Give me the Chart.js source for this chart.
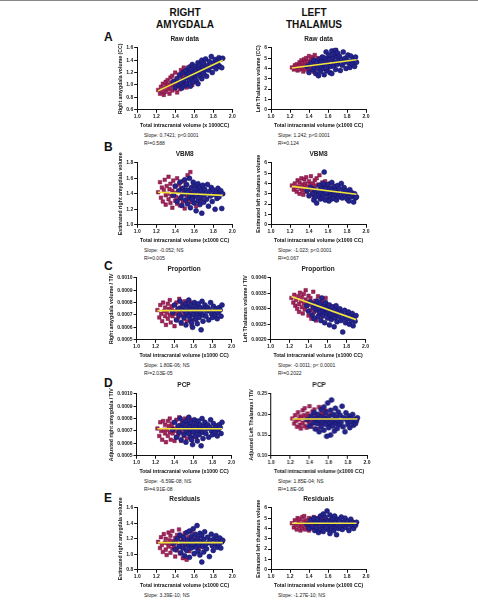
<!DOCTYPE html>
<html>
<head>
<meta charset="utf-8">
<script src="https://cdn.jsdelivr.net/npm/chart.js@4.4.1/dist/chart.umd.min.js"></script>
<style>
  body { margin: 0; width: 478px; height: 601px; background: #fff; position: relative; overflow: hidden;
         font-family: "Liberation Sans", Arial, sans-serif; border-top: 1px solid #888; box-sizing: border-box; }
  .box { position: absolute; }
  .t { position: absolute; white-space: nowrap; color: #111; }
  .head { font-size: 10px; font-weight: bold; line-height: 12px; text-align: center; width: 120px; }
  .letter { font-size: 12px; font-weight: bold; line-height: 14px; }
  .stat { font-size: 5px; line-height: 7.5px; color: #222; }
</style>
</head>
<body>
<div class="t head" style="left:125px;top:6px">RIGHT<br>AMYGDALA</div>
<div class="t head" style="left:254px;top:6px">LEFT<br>THALAMUS</div>
<div class="t letter" style="left:104px;top:29px">A</div>
<div class="t letter" style="left:104px;top:139px">B</div>
<div class="t letter" style="left:104px;top:258px">C</div>
<div class="t letter" style="left:104px;top:375px">D</div>
<div class="t letter" style="left:104px;top:490px">E</div>

<script>
// TIV (x1000 CC), same subjects in every panel
const tivFemale = [1.22,1.24,1.25,1.26,1.27,1.28,1.29,1.30,1.30,1.31,
  1.32,1.33,1.33,1.34,1.35,1.35,1.36,1.37,1.37,1.38,
  1.39,1.40,1.40,1.41,1.42,1.42,1.43,1.44,1.45,1.45,
  1.46,1.47,1.48,1.48,1.49,1.50,1.51,1.52,1.53,1.54,
  1.55,1.56,1.57,1.58,1.59,1.60,1.62,1.63,1.65,1.68];
const tivMale = [1.38,1.40,1.42,1.44,1.45,1.46,1.47,1.48,1.49,1.50,
  1.51,1.52,1.52,1.53,1.54,1.55,1.55,1.56,1.57,1.57,
  1.58,1.59,1.60,1.60,1.61,1.62,1.62,1.63,1.64,1.64,
  1.65,1.66,1.66,1.67,1.68,1.68,1.69,1.70,1.70,1.71,
  1.72,1.73,1.74,1.75,1.76,1.77,1.78,1.79,1.80,1.81,
  1.82,1.83,1.84,1.85,1.86,1.87,1.88,1.89,1.90,1.58];
const xTicks = [1.0, 1.2, 1.4, 1.6, 1.8, 2.0];
const fitX = [1.22, 1.90];

// A - raw data
const amygRawF = [0.92,0.86,0.97,0.90,1.02,0.84,0.95,1.05,0.89,0.99,
  1.08,0.93,1.01,0.86,1.12,0.97,1.04,0.91,1.15,1.00,
  1.07,0.94,1.20,1.03,0.88,1.11,0.98,1.17,1.05,0.93,
  1.24,1.09,0.99,1.14,1.28,1.03,1.19,0.96,1.12,1.22,
  1.06,1.30,1.15,1.00,1.20,1.10,1.26,1.05,1.18,1.12];
const amygRawM = [1.05,0.96,1.10,1.00,1.16,1.04,0.95,1.20,1.08,0.99,
  1.23,1.12,1.02,1.17,1.28,1.07,1.19,0.98,1.25,1.13,
  1.33,1.05,1.21,1.14,1.30,1.09,1.24,1.18,1.36,1.02,
  1.27,1.15,1.32,1.22,1.40,1.10,1.29,1.19,1.35,1.25,
  1.42,1.14,1.31,1.24,1.38,1.29,1.46,1.20,1.35,1.30,
  1.41,1.26,1.37,1.33,1.44,1.30,1.42,1.28,1.43,1.16];
const amygRawFit = [0.905, 1.40];
const amygRawTicks = [0.6, 0.8, 1.0, 1.2, 1.4, 1.6];

const thalRawF = [4.1,3.9,4.3,4.0,4.4,3.8,4.2,4.6,3.9,4.3,
  4.8,4.0,4.5,3.7,4.9,4.2,4.6,3.9,5.0,4.3,
  4.7,3.8,5.2,4.4,4.0,4.9,4.2,5.1,4.5,3.7,
  5.3,4.6,4.1,4.8,5.0,4.3,4.7,3.9,4.5,5.1,
  4.2,4.9,4.4,3.8,4.6,4.1,5.0,4.3,4.7,4.4];
const thalRawM = [4.2,3.6,4.5,3.9,4.8,4.1,3.5,4.6,4.0,3.3,
  4.9,4.3,3.7,4.7,5.1,4.0,4.5,3.4,5.0,4.2,
  5.6,3.8,4.8,4.4,5.3,3.6,4.9,4.2,5.7,3.5,
  5.0,4.3,5.4,4.6,5.8,3.9,5.1,4.4,5.5,4.7,
  5.2,3.8,4.9,4.3,5.6,4.6,5.0,4.0,4.8,5.3,
  4.5,4.1,5.2,4.7,4.4,4.9,4.2,5.1,4.6,4.1];
const thalRawFit = [4.05, 4.85];
const thalTicks = [0, 1, 2, 3, 4, 5, 6];

// B - VBM8
const amygVbmF = [1.42,1.55,1.35,1.48,1.30,1.45,1.58,1.38,1.26,1.50,
  1.40,1.62,1.33,1.46,1.28,1.53,1.37,1.44,1.22,1.57,
  1.41,1.31,1.49,1.36,1.60,1.27,1.43,1.52,1.34,1.25,
  1.47,1.39,1.56,1.30,1.44,1.21,1.51,1.38,1.64,1.33,
  1.45,1.68,1.29,1.41,1.54,1.36,1.24,1.48,1.39,1.32];
const amygVbmM = [1.38,1.50,1.30,1.44,1.55,1.35,1.25,1.47,1.40,1.58,
  1.32,1.45,1.52,1.27,1.42,1.36,1.60,1.22,1.48,1.39,
  1.34,1.55,1.28,1.43,1.50,1.37,1.18,1.46,1.31,1.53,
  1.41,1.26,1.49,1.35,1.44,1.15,1.51,1.38,1.29,1.46,
  1.40,1.33,1.52,1.24,1.43,1.37,1.48,1.30,1.45,1.39,
  1.20,1.42,1.34,1.47,1.36,1.41,1.44,1.21,1.40,1.33];
const amygVbmFit = [1.42, 1.38];
const amygVbmTicks = [1.0, 1.2, 1.4, 1.6, 1.8];

const thalVbmF = [3.8,3.4,4.0,3.6,3.2,4.3,3.7,3.0,4.1,3.5,
  4.5,3.3,3.9,2.9,4.4,3.6,4.0,3.2,4.6,3.7,
  3.4,4.2,2.8,3.9,3.5,4.7,3.1,4.0,3.6,2.7,
  4.3,3.8,3.3,4.5,3.0,3.9,4.8,3.4,3.7,4.1,
  2.9,3.6,4.2,3.2,3.8,3.5,4.0,3.1,3.6,3.3];
const thalVbmM = [3.3,2.8,3.6,3.0,2.4,3.4,2.7,2.1,3.2,2.9,
  3.8,2.5,3.1,3.5,2.6,4.0,2.9,5.1,3.3,2.4,
  3.6,3.0,2.7,3.9,2.3,3.2,3.5,2.8,4.1,2.5,
  3.4,3.0,2.6,3.7,2.9,3.3,2.4,3.8,3.1,2.7,
  3.5,2.9,4.0,2.6,3.2,3.6,2.8,3.3,2.5,3.0,
  2.3,3.4,2.7,3.1,2.9,2.2,3.0,2.6,2.7,3.1];
const thalVbmFit = [3.72, 2.95];

// C - proportion
const amygPropF = [0.00074,0.00068,0.00078,0.00071,0.00065,0.00080,0.00073,0.00069,0.00076,0.00062,
  0.00072,0.00079,0.00067,0.00075,0.00070,0.00082,0.00064,0.00074,0.00077,0.00069,
  0.00073,0.00061,0.00078,0.00071,0.00066,0.00080,0.00074,0.00068,0.00083,0.00072,
  0.00076,0.00063,0.00070,0.00079,0.00074,0.00067,0.00081,0.00071,0.00065,0.00077,
  0.00073,0.00069,0.00080,0.00062,0.00075,0.00071,0.00078,0.00066,0.00074,0.00070];
const amygPropM = [0.00072,0.00078,0.00066,0.00075,0.00070,0.00081,0.00064,0.00074,0.00077,0.00068,
  0.00073,0.00079,0.00062,0.00071,0.00076,0.00069,0.00082,0.00074,0.00066,0.00078,
  0.00072,0.00060,0.00075,0.00070,0.00080,0.00067,0.00074,0.00077,0.00063,0.00071,
  0.00079,0.00073,0.00068,0.00076,0.00058,0.00072,0.00081,0.00070,0.00065,0.00075,
  0.00078,0.00069,0.00073,0.00076,0.00066,0.00074,0.00080,0.00071,0.00068,0.00077,
  0.00073,0.00070,0.00075,0.00067,0.00072,0.00076,0.00074,0.00069,0.00078,0.00064];
const amygPropFit = [0.000735, 0.000737];
const amygRatioTicks = [0.0005, 0.0006, 0.0007, 0.0008, 0.0009, 0.0010];

const thalPropF = [0.00335,0.00320,0.00345,0.00310,0.00328,0.00300,0.00340,0.00315,0.00290,0.00352,
  0.00325,0.00305,0.00338,0.00285,0.00318,0.00348,0.00298,0.00330,0.00360,0.00308,
  0.00322,0.00278,0.00342,0.00312,0.00295,0.00335,0.00268,0.00320,0.00305,0.00355,
  0.00290,0.00326,0.00300,0.00262,0.00315,0.00340,0.00282,0.00310,0.00296,0.00328,
  0.00275,0.00318,0.00302,0.00335,0.00288,0.00312,0.00270,0.00298,0.00308,0.00285];
const thalPropM = [0.00310,0.00292,0.00322,0.00280,0.00305,0.00268,0.00315,0.00296,0.00325,0.00275,
  0.00300,0.00288,0.00318,0.00262,0.00335,0.00292,0.00278,0.00308,0.00255,0.00298,
  0.00320,0.00285,0.00270,0.00302,0.00290,0.00248,0.00312,0.00280,0.00296,0.00265,
  0.00305,0.00275,0.00288,0.00242,0.00298,0.00270,0.00310,0.00282,0.00258,0.00292,
  0.00276,0.00300,0.00262,0.00286,0.00225,0.00270,0.00295,0.00255,0.00280,0.00268,
  0.00290,0.00250,0.00275,0.00262,0.00285,0.00245,0.00272,0.00260,0.00278,0.00300];
const thalPropFit = [0.00340, 0.00265];
const thalPropTicks = [0.0020, 0.0025, 0.0030, 0.0035, 0.0040];

// D - PCP
const amygPcpF = [0.00072,0.00066,0.00077,0.00070,0.00063,0.00078,0.00071,0.00068,0.00075,0.00061,
  0.00071,0.00078,0.00066,0.00074,0.00069,0.00080,0.00063,0.00073,0.00076,0.00068,
  0.00072,0.00062,0.00077,0.00070,0.00065,0.00079,0.00073,0.00067,0.00081,0.00071,
  0.00075,0.00062,0.00069,0.00078,0.00073,0.00066,0.00080,0.00070,0.00064,0.00076,
  0.00072,0.00068,0.00079,0.00063,0.00074,0.00070,0.00077,0.00065,0.00073,0.00069];
const amygPcpM = [0.00071,0.00077,0.00065,0.00074,0.00069,0.00080,0.00063,0.00073,0.00076,0.00067,
  0.00072,0.00078,0.00061,0.00070,0.00075,0.00068,0.00081,0.00073,0.00065,0.00077,
  0.00071,0.00059,0.00074,0.00069,0.00079,0.00066,0.00073,0.00076,0.00062,0.00070,
  0.00078,0.00072,0.00067,0.00075,0.00058,0.00071,0.00080,0.00069,0.00064,0.00074,
  0.00077,0.00068,0.00072,0.00075,0.00065,0.00073,0.00079,0.00070,0.00067,0.00076,
  0.00072,0.00069,0.00074,0.00066,0.00071,0.00075,0.00073,0.00068,0.00077,0.00063];
const amygPcpFit = [0.000718, 0.000718];

const thalPcpF = [0.190,0.178,0.198,0.185,0.170,0.205,0.188,0.175,0.195,0.166,
  0.192,0.210,0.180,0.198,0.172,0.215,0.186,0.194,0.168,0.202,
  0.183,0.220,0.176,0.196,0.188,0.170,0.207,0.191,0.179,0.212,
  0.185,0.200,0.165,0.193,0.182,0.218,0.189,0.174,0.203,0.186,
  0.196,0.178,0.209,0.184,0.192,0.171,0.199,0.187,0.180,0.194];
const thalPcpM = [0.188,0.172,0.196,0.180,0.205,0.165,0.190,0.178,0.200,0.158,
  0.185,0.212,0.170,0.194,0.182,0.218,0.162,0.190,0.176,0.205,
  0.186,0.228,0.168,0.195,0.180,0.210,0.150,0.235,0.184,0.172,
  0.200,0.188,0.160,0.215,0.178,0.194,0.166,0.206,0.185,0.175,
  0.198,0.182,0.220,0.170,0.192,0.158,0.204,0.186,0.176,0.196,
  0.168,0.190,0.182,0.200,0.174,0.188,0.178,0.185,0.192,0.147];
const thalPcpFit = [0.189, 0.189];
const thalPcpTicks = [0.10, 0.15, 0.20, 0.25];

// E - residuals
const amygResF = [1.16,1.08,1.22,1.12,1.03,1.26,1.15,1.06,1.20,0.99,
  1.14,1.28,1.10,1.18,1.02,1.24,1.13,1.07,1.30,1.17,
  1.09,1.21,0.97,1.15,1.25,1.05,1.19,1.32,1.11,1.01,
  1.23,1.14,0.95,1.20,1.08,1.27,1.16,0.93,1.12,1.22,
  1.04,1.18,1.29,1.10,1.15,1.00,1.21,1.13,1.07,1.17];
const amygResM = [1.14,1.06,1.20,1.10,1.25,1.02,1.16,1.08,1.22,0.98,
  1.13,1.28,1.05,1.18,1.11,1.30,0.96,1.15,1.23,1.08,
  1.19,1.33,1.01,1.14,1.26,1.09,1.17,1.37,1.04,1.21,
  1.12,1.27,0.99,1.16,0.90,1.24,1.10,1.19,1.03,1.29,
  1.13,1.07,1.22,1.15,0.97,1.18,1.26,1.11,1.05,1.20,
  1.14,1.24,1.09,1.17,1.12,1.21,1.08,1.16,1.18,1.13];
const amygResFit = [1.15, 1.15];
const amygResTicks = [0.8, 1.0, 1.2, 1.4, 1.6];

const thalResF = [4.5,4.1,4.8,4.3,3.9,5.0,4.6,4.2,4.9,3.8,
  4.4,5.1,4.0,4.7,4.3,5.2,3.9,4.6,4.8,4.2,
  4.5,3.8,5.0,4.4,4.1,4.9,4.6,4.0,5.1,4.3,
  4.7,3.9,4.5,5.0,4.2,4.8,4.4,3.9,4.6,5.0,
  4.3,4.7,4.1,4.9,4.5,4.0,4.8,4.4,4.2,4.6];
const thalResM = [4.4,4.0,4.8,4.2,5.0,3.8,4.6,4.1,4.9,3.6,
  4.5,5.2,3.9,4.7,4.3,5.4,3.7,4.6,4.2,5.1,
  4.4,5.7,3.9,4.7,4.2,5.3,3.5,4.8,4.4,4.0,
  5.0,4.5,3.8,5.2,4.1,4.6,3.4,4.9,4.3,4.0,
  4.8,4.2,5.1,3.9,4.6,4.3,5.0,4.1,4.5,4.7,
  3.8,4.4,4.9,4.2,4.6,4.0,4.5,4.3,4.6,4.1];
const thalResFit = [4.5, 4.5];

Chart.defaults.font.family = '"Liberation Sans", Arial, sans-serif';

const pink = '#a3245c', pinkEdge = '#74123f';
const navy = '#24248e', navyEdge = '#12125e';
const yellow = '#f1e43a';
const xTitleStd = 'Total intracranial volume (x1000 CC)';

// plot-area anchor (x of y-axis, y of top) for each panel
const panels = [
  { x: 137, y: 47, title: 'Raw data', yTitle: 'Right amygdala volume (CC)', xTitle: 'Total intracranial volume (x 1000CC)',
    f: amygRawF, m: amygRawM, fit: amygRawFit, ticks: amygRawTicks, dec: 1,
    stats: ['Slope: 0.7421; p<0.0001', 'R²=0.588'] },
  { x: 271, y: 47, title: 'Raw data', yTitle: 'Left Thalamus volume (CC)', xTitle: xTitleStd,
    f: thalRawF, m: thalRawM, fit: thalRawFit, ticks: thalTicks, dec: 0,
    stats: ['Slope: 1.242; p<0.0001', 'R²=0.124'] },
  { x: 137, y: 162, title: 'VBM8', yTitle: 'Estimated right amygdala volume', xTitle: xTitleStd,
    f: amygVbmF, m: amygVbmM, fit: amygVbmFit, ticks: amygVbmTicks, dec: 1,
    stats: ['Slope: -0.052; NS', 'R²=0.005'] },
  { x: 271, y: 162, title: 'VBM8', yTitle: 'Estimated left thalamus volume', xTitle: xTitleStd,
    f: thalVbmF, m: thalVbmM, fit: thalVbmFit, ticks: thalTicks, dec: 0,
    stats: ['Slope: -1.023; p<0.0001', 'R²=0.067'] },
  { x: 137, y: 277, title: 'Proportion', yTitle: 'Right amygdala volume / TIV', xTitle: xTitleStd,
    f: amygPropF, m: amygPropM, fit: amygPropFit, ticks: amygRatioTicks, dec: 4,
    stats: ['Slope: 1.80E-06; NS', 'R²=2.03E-05'] },
  { x: 271, y: 277, title: 'Proportion', yTitle: 'Left Thalamus volume / TIV', xTitle: xTitleStd,
    f: thalPropF, m: thalPropM, fit: thalPropFit, ticks: thalPropTicks, dec: 4,
    stats: ['Slope: -0.0011; p< 0.0001', 'R²=0.2022'] },
  { x: 137, y: 393, title: 'PCP', yTitle: 'Adjusted right amygdala / TIV', xTitle: xTitleStd,
    f: amygPcpF, m: amygPcpM, fit: amygPcpFit, ticks: amygRatioTicks, dec: 4,
    stats: ['Slope: -6.59E-08; NS', 'R²=4.91E-08'] },
  { x: 271, y: 393, title: 'PCP', yTitle: 'Adjusted Left Thalamus / TIV', xTitle: xTitleStd,
    f: thalPcpF, m: thalPcpM, fit: thalPcpFit, ticks: thalPcpTicks, dec: 2,
    stats: ['Slope: 1.85E-04; NS', 'R²=1.8E-06'] },
  { x: 137, y: 507, title: 'Residuals', yTitle: 'Estimated right amygdala volume', xTitle: xTitleStd,
    f: amygResF, m: amygResM, fit: amygResFit, ticks: amygResTicks, dec: 1,
    stats: ['Slope: 3.39E-10; NS', 'R²=2.97E-19'] },
  { x: 271, y: 507, title: 'Residuals', yTitle: 'Estimated left thalamus volume', xTitle: xTitleStd,
    f: thalResF, m: thalResM, fit: thalResFit, ticks: thalTicks, dec: 0,
    stats: ['Slope: -1.27E-10; NS', 'R²=4.29E-19'] }
];
const plotW = 95, plotH = 62;

function axisTicks(vals) {
  return scale => { scale.ticks = vals.map(v => ({ value: v })); };
}

function makePanel(p) {
  const wrap = document.createElement('div');
  wrap.className = 'box';
  wrap.style.width = '140px';
  wrap.style.height = '100px';
  const cv = document.createElement('canvas');
  wrap.appendChild(cv);
  document.body.appendChild(wrap);

  const chart = new Chart(cv, {
    data: {
      datasets: [
        { type: 'line', data: fitX.map((x, i) => ({ x: x, y: p.fit[i] })),
          borderColor: yellow, borderWidth: 1.6, pointRadius: 0, fill: false },
        { type: 'scatter', data: tivMale.map((x, i) => ({ x: x, y: p.m[i] })),
          pointStyle: 'circle', pointRadius: 2.5, backgroundColor: navy, borderColor: navyEdge, borderWidth: 0.5 },
        { type: 'scatter', data: tivFemale.map((x, i) => ({ x: x, y: p.f[i] })),
          pointStyle: 'rect', pointRadius: 2.5, backgroundColor: pink, borderColor: pinkEdge, borderWidth: 0.5 }
      ]
    },
    options: {
      responsive: true,
      maintainAspectRatio: false,
      animation: false,
      layout: { padding: 0 },
      plugins: {
        legend: { display: false },
        tooltip: { enabled: false },
        title: { display: true, text: p.title, fullSize: false, color: '#222',
                 font: { size: 6.5, weight: 'bold' }, padding: { top: 0, bottom: 5 } }
      },
      scales: {
        x: {
          type: 'linear', min: 1.0, max: 2.0,
          afterBuildTicks: axisTicks(xTicks),
          ticks: { callback: v => v.toFixed(1), font: { size: 5, weight: 'bold' }, color: '#222',
                   padding: 1, maxRotation: 0, autoSkip: false },
          grid: { display: true, drawOnChartArea: false, tickLength: 3, color: '#111' },
          border: { color: '#111', width: 1 },
          title: { display: true, text: p.xTitle, color: '#111', font: { size: 5.2, weight: 'bold' },
                   padding: { top: 2, bottom: 0 } }
        },
        y: {
          type: 'linear', min: p.ticks[0], max: p.ticks[p.ticks.length - 1],
          afterBuildTicks: axisTicks(p.ticks),
          ticks: { callback: v => v.toFixed(p.dec), font: { size: 5, weight: 'bold' }, color: '#222',
                   padding: 1, autoSkip: false },
          grid: { display: true, drawOnChartArea: false, tickLength: 3, color: '#111' },
          border: { color: '#111', width: 1 },
          title: { display: true, text: p.yTitle, color: '#111', font: { size: 5.2, weight: 'bold' },
                   padding: { top: 0, bottom: 2 } }
        }
      }
    }
  });

  // size the canvas so the plot area is plotW x plotH, then pin it in place
  const ca = chart.chartArea;
  wrap.style.width = (140 + plotW - (ca.right - ca.left)) + 'px';
  wrap.style.height = (100 + plotH - (ca.bottom - ca.top)) + 'px';
  chart.resize();
  const ca2 = chart.chartArea;
  wrap.style.left = (p.x - ca2.left) + 'px';
  wrap.style.top = (p.y - ca2.top) + 'px';

  const st = document.createElement('div');
  st.className = 't stat';
  st.style.left = (p.x + 7) + 'px';
  st.style.top = (p.y + plotH + 22) + 'px';
  st.innerHTML = p.stats.join('<br>');
  document.body.appendChild(st);
}

panels.forEach(makePanel);
</script>
</body>
</html>
